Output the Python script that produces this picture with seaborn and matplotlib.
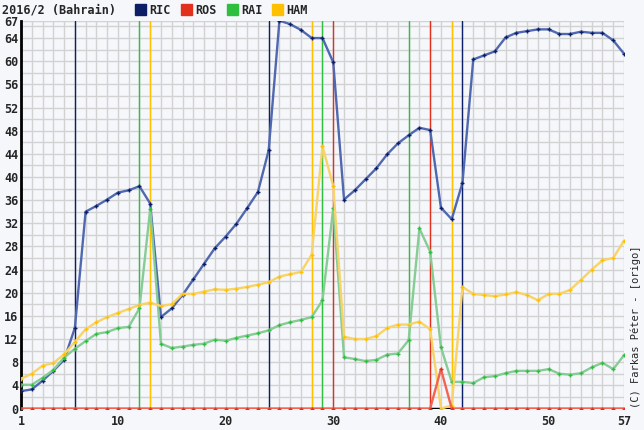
import numpy as np
import pandas as pd
import seaborn as sns
import matplotlib.pyplot as plt
from matplotlib.patches import Rectangle

# Gap to leader per lap (seconds), 2016 Bahrain GP
laps = list(range(1, 58))

ric = [3.0, 3.3, 4.8, 6.5, 8.4, 13.9, 34.0, 35.0, 36.1, 37.3, 37.7, 38.4, 35.4,
       15.8, 17.3, 19.6, 22.3, 25.0, 27.7, 29.7, 31.9, 34.6, 37.4, 44.6,
       67.0, 66.4, 65.4, 64.0, 64.0, 59.8, 36.1, 37.7, 39.6, 41.5, 43.9, 45.8,
       47.2, 48.5, 48.1, 34.7, 32.7, 39.0, 60.3, 61.0, 61.7, 64.1, 64.9, 65.2,
       65.5, 65.5, 64.7, 64.7, 65.1, 64.9, 64.9, 63.6, 61.3]

ros = [0.0] * 39 + [6.8] + [0.0] * 17

rai = [4.1, 4.1, 5.3, 6.65, 8.8, 10.3, 11.65, 12.9, 13.2, 13.9, 14.1, 17.3, 34.5,
       11.2, 10.45, 10.7, 11.0, 11.2, 11.9, 11.7, 12.2, 12.6, 13.0, 13.5,
       14.4, 14.9, 15.3, 15.8, 18.7, 34.6, 8.85, 8.55, 8.2, 8.4, 9.3, 9.5,
       11.8, 31.1, 27.1, 10.6, 4.6, 4.6, 4.4, 5.4, 5.6, 6.1, 6.5, 6.5, 6.5,
       6.8, 6.0, 5.85, 6.1, 7.1, 7.9, 6.8, 9.2]

ham = [5.15, 6.0, 7.4, 7.85, 9.35, 11.5, 13.7, 14.9, 15.8, 16.5, 17.2, 17.9, 18.3,
       17.7, 18.0, 19.8, 19.8, 20.2, 20.6, 20.5, 20.7, 21.0, 21.4, 21.8,
       22.8, 23.2, 23.6, 26.6, 45.3, 38.4, 12.4, 12.0, 12.0, 12.5, 13.9, 14.5,
       14.5, 15.0, 13.7, 0.0, 0.5, 21.0, 19.8, 19.6, 19.4, 19.7, 20.1, 19.6,
       18.7, 19.8, 19.8, 20.5, 22.2, 24.0, 25.6, 26.0, 29.0]

drivers = ['RIC', 'ROS', 'RAI', 'HAM']
pit_laps = {'RIC': [6, 24, 42], 'ROS': [30, 39], 'RAI': [12, 29, 37], 'HAM': [13, 28, 41]}

key_colors = {'RIC': '#0c1f66', 'ROS': '#e2301c', 'RAI': '#2fbf3f', 'HAM': '#ffc000'}
line_colors = {'RIC': '#5068b0', 'ROS': '#f26452', 'RAI': '#86cc95', 'HAM': '#f8d468'}

x_ticks = [1, 10, 20, 30, 40, 50, 57]
y_ticks = [0, 4, 8, 12, 16, 20, 24, 28, 32, 36, 40, 44, 48, 52, 56, 60, 64, 67]

df = pd.DataFrame({'lap': laps, 'RIC': ric, 'ROS': ros, 'RAI': rai, 'HAM': ham})
df_long = df.melt(id_vars='lap', var_name='driver', value_name='gap')

sns.set_style('white')
plt.rcParams['font.family'] = ['DejaVu Sans Mono', 'DejaVu Sans']

fig = plt.figure(figsize=(6.44, 4.30), dpi=100)
fig.patch.set_facecolor('#f5f7fa')
ax = fig.add_axes([21 / 644, 1 - 408.5 / 430, 603 / 644, 387.8 / 430])
ax.set_facecolor('#f5f7fa')

# pit stop lines
for d in drivers:
    for p in pit_laps[d]:
        ax.axvline(p, color=key_colors[d], lw=1, zorder=2)

# small black bar near the bottom (laps 39-41)
ax.plot([39, 41], [0, 0], color='black', lw=2.5, zorder=3, solid_capstyle='butt')

order = ['RIC', 'RAI', 'HAM', 'ROS']
for d in order:
    sub = df_long[df_long['driver'] == d]
    sns.lineplot(data=sub, x='lap', y='gap', ax=ax, color=line_colors[d], lw=1.7,
                 marker='+', markersize=3.5, markeredgewidth=1,
                 markeredgecolor=key_colors[d], zorder=4, legend=False)

ax.set_xlim(1, 57)
ax.set_ylim(0, 67)
ax.set_xticks(x_ticks)
ax.set_xticks(laps, minor=True)
ax.set_yticks(y_ticks)
ax.set_yticks(np.arange(0, 67, 2), minor=True)
ax.grid(which='both', color='#d2d2d2', lw=1, zorder=0)
ax.set_axisbelow(True)
ax.tick_params(which='both', length=0)
ax.tick_params(axis='x', pad=5)
ax.tick_params(axis='y', pad=2)
for lbl in ax.get_xticklabels() + ax.get_yticklabels():
    lbl.set_fontweight('bold')
    lbl.set_fontsize(8.5)
ax.set_xlabel('')
ax.set_ylabel('')
for s in ['top', 'right', 'bottom']:
    ax.spines[s].set_visible(False)
ax.spines['left'].set_color('black')
ax.spines['left'].set_linewidth(2)

# title and legend row
fig.text(2 / 644, 1 - 10 / 430, '2016/2 (Bahrain)', fontsize=8.5, fontweight='bold',
         va='center', ha='left')
leg_x = [135, 181, 227, 272]
for d, lx in zip(drivers, leg_x):
    fig.patches.append(Rectangle((lx / 644, 1 - 15 / 430), 11 / 644, 11 / 430,
                                 transform=fig.transFigure, color=key_colors[d]))
    fig.text((lx + 14) / 644, 1 - 10 / 430, d, fontsize=8.5, fontweight='bold',
             va='center', ha='left')

fig.text(636 / 644, 1 - 408 / 430, '(C) Farkas Péter - [origo]', fontsize=7.5,
         rotation=90, va='bottom', ha='center')

fig.savefig('out.png', dpi=100, facecolor=fig.get_facecolor())
